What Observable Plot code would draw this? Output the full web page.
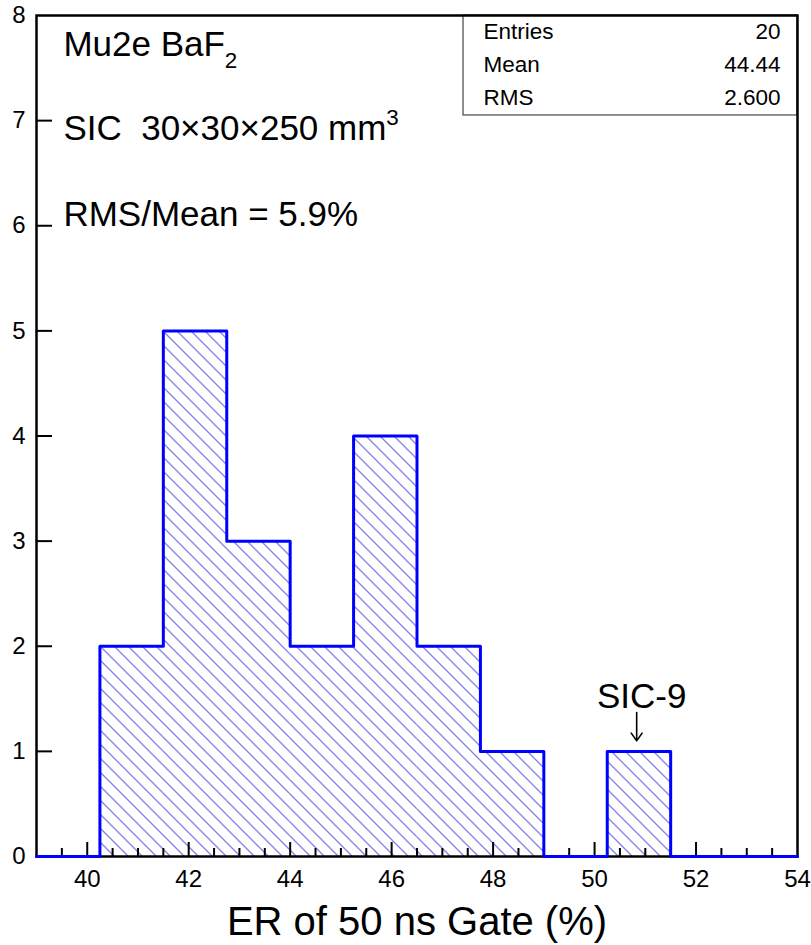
<!DOCTYPE html>
<html><head><meta charset="utf-8">
<script src="https://cdn.jsdelivr.net/npm/d3@7"></script>
<script src="https://cdn.jsdelivr.net/npm/@observablehq/plot@0.6"></script>
<style>body{margin:0;background:#fff} svg{display:block}</style>
</head><body><div id="chart"></div>
<script>
// ---- data ----
const binEdges = [40.25, 41.5, 42.75, 44, 45.25, 46.5, 47.75, 49, 50.25, 51.5];
const binCounts = [2, 5, 3, 2, 4, 2, 1, 0, 1];
const xDomain = [39, 54];
const yDomain = [0, 8];
const xTickLabels = [40, 42, 44, 46, 48, 50, 52, 54];
const yTickLabels = [0, 1, 2, 3, 4, 5, 6, 7, 8];
const statNames = ["Entries", "Mean", "RMS"];
const statValues = ["20", "44.44", "2.600"];
const infoLines = ["Mu2e BaF_{2}", "SIC  30×30×250 mm^{3}", "RMS/Mean = 5.9%"];
const xLabel = "ER of 50 ns Gate (%)";
const annotation = "SIC-9";
const annotatedBin = 8; // index of SIC-9 bin

// ---- layout (data-unit anchors for annotations) ----
const W = 811, H = 945;
const M = {left: 36, right: 14, top: 15, bottom: 89};
const plotW = W - M.left - M.right, plotH = H - M.top - M.bottom;
const infoX = 39.53, infoY = [7.61, 6.82, 6.0];
const statBox = {x1: 47.417, x2: 54, y1: 7.049, y2: 8};
const statNameX = 47.81, statValueX = 53.666, statY = [7.772, 7.458, 7.144];

const bins = binCounts.map((c, i) => ({x1: binEdges[i], x2: binEdges[i + 1], y: c})).filter(d => d.y > 0);
const outline = [{x: xDomain[0], y: 0}]
  .concat(binCounts.map((c, i) => ({x: binEdges[i], y: c})))
  .concat([{x: binEdges[binEdges.length - 1], y: 0}, {x: xDomain[1], y: 0}]);
const xMajor = xTickLabels.filter(v => v > xDomain[0] && v < xDomain[1]);
const xMinor = d3.range(xDomain[0] + 0.5, xDomain[1], 0.5).filter(v => v % 2 !== 0);
const yMajor = yTickLabels.filter(v => v > yDomain[0] && v < yDomain[1]);
const annX = (binEdges[annotatedBin] + binEdges[annotatedBin + 1]) / 2;
const annCount = binCounts[annotatedBin];

const font = "'Liberation Sans', Arial, Helvetica, sans-serif";

const plot = Plot.plot({
  width: W, height: H,
  marginLeft: M.left, marginRight: M.right, marginTop: M.top, marginBottom: M.bottom,
  x: {domain: xDomain},
  y: {domain: yDomain},
  style: {fontFamily: font, color: "#000", background: "#fff"},
  marks: [
    Plot.rect(bins, {x1: "x1", x2: "x2", y1: 0, y2: "y", fill: "url(#hatch)"}),
    Plot.rect([statBox], {x1: "x1", x2: "x2", y1: "y1", y2: "y2", fill: "#fff", stroke: "#444", strokeWidth: 1.2}),
    Plot.frame({stroke: "#000", strokeWidth: 2.5}),
    Plot.ruleX(xMajor, {x: d => d, insetTop: plotH - 14, stroke: "#000", strokeWidth: 2}),
    Plot.ruleX(xMinor, {x: d => d, insetTop: plotH - 8, stroke: "#000", strokeWidth: 2}),
    Plot.ruleY(yMajor, {y: d => d, insetRight: plotW - 16, stroke: "#000", strokeWidth: 2}),
    Plot.line(outline, {x: "x", y: "y", curve: "step-after", stroke: "#0000ff", strokeWidth: 3}),
    Plot.axisX({ticks: xTickLabels, tickSize: 0, tickPadding: 13, fontSize: 24, label: null}),
    Plot.axisY({ticks: yTickLabels, tickSize: 0, tickPadding: 11, fontSize: 24, label: null}),
    Plot.text(infoLines, {x: infoX, y: (d, i) => infoY[i], text: d => d, textAnchor: "start", lineAnchor: "bottom", fontSize: 35}),
    Plot.text(statNames, {x: statNameX, y: (d, i) => statY[i], text: d => d, textAnchor: "start", lineAnchor: "bottom", fontSize: 22.5}),
    Plot.text(statValues, {x: statValueX, y: (d, i) => statY[i], text: d => d, textAnchor: "end", lineAnchor: "bottom", fontSize: 22.5}),
    Plot.arrow([annCount], {x1: annX - 0.045, x2: annX - 0.045, y1: d => d + 0.37, y2: d => d + 0.10, stroke: "#000", strokeWidth: 1.6, headLength: 11, headAngle: 70}),
    Plot.text([annCount], {x: annX + 0.055, y: d => d + 0.408, text: () => annotation, lineAnchor: "bottom", fontSize: 35}),
    Plot.text([xLabel], {frameAnchor: "bottom", dy: 78, text: d => d, lineAnchor: "bottom", fontSize: 40})
  ]
});

// hatch pattern
const svgNS = "http://www.w3.org/2000/svg";
const defs = document.createElementNS(svgNS, "defs");
defs.innerHTML = '<pattern id="hatch" patternUnits="userSpaceOnUse" width="14" height="14">' +
  '<path d="M-1,-1L15,15M-8,6L8,22M6,-8L22,8" stroke="#8080f2" stroke-width="1.3" fill="none"/></pattern>';
plot.insertBefore(defs, plot.firstChild);

document.getElementById("chart").appendChild(plot);

// sub/superscripts
plot.querySelectorAll("text").forEach(t => {
  const s = t.textContent;
  if (!/[_^]\{/.test(s)) return;
  const fs = parseFloat(getComputedStyle(t).fontSize) || 35;
  t.textContent = "";
  const re = /([_^])\{([^}]*)\}/g;
  let last = 0, m, shifted = 0;
  const add = (txt, size, dy) => {
    const sp = document.createElementNS(svgNS, "tspan");
    sp.textContent = txt;
    if (size) sp.setAttribute("font-size", size);
    if (dy) sp.setAttribute("dy", dy);
    t.appendChild(sp);
  };
  while ((m = re.exec(s))) {
    if (m.index > last) { add(s.slice(last, m.index), null, -shifted); shifted = 0; }
    const dy = m[1] === "_" ? fs * 0.33 : -fs * 0.42;
    add(m[2], fs * 0.64, dy);
    shifted = dy;
    last = re.lastIndex;
  }
  if (last < s.length) add(s.slice(last), null, -shifted);
});
</script>
</body></html>
